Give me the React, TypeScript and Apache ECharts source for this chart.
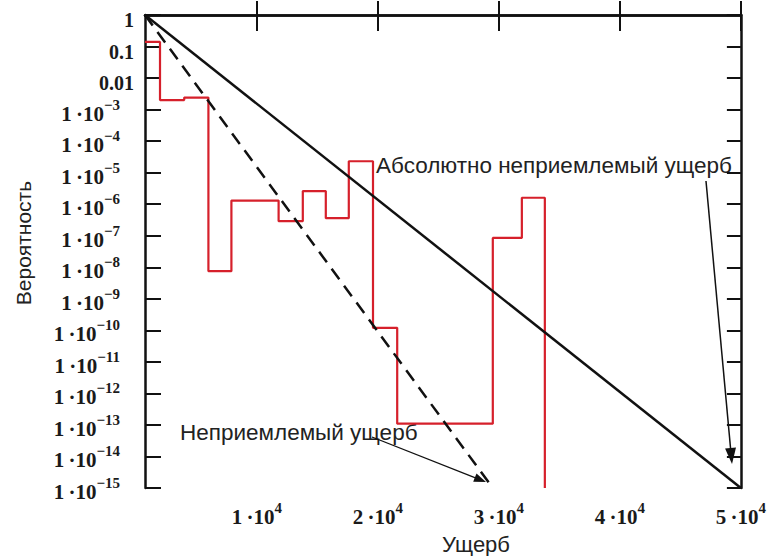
import React, { useEffect, useRef } from "react";
import * as echarts from "echarts";

// ---- data ----
const X_MIN = 760;
const X_MAX = 50000;
const xTickValues = [10000, 20000, 30000, 40000, 50000];

// red step curve: bin edges (damage) and probability in each bin
const stepEdges = [760, 2000, 4000, 6000, 7900, 11800, 13800, 15700, 17600, 19600, 21600, 29500, 31900, 33800];
const stepProb = [0.14, 2.0e-3, 2.4e-3, 7.5e-9, 1.3e-6, 2.9e-7, 2.6e-6, 3.6e-7, 2.3e-5, 1.2e-10, 1.1e-13, 8.5e-8, 1.6e-6];
const P_FLOOR = 1e-15;

// black limit lines
const absLimitX = [760, 50000];
const absLimitP = [1, 1e-15];
const limitX = [760, 29500];
const limitP = [1, 1e-15];

const SERIF = "'Liberation Serif', 'DejaVu Serif', serif";
const SANS = "'Liberation Sans', Arial, sans-serif";

function arrow(x1: number, y1: number, x2: number, y2: number, len: number, half: number, lw: number) {
  const dx = x2 - x1, dy = y2 - y1;
  const d = Math.sqrt(dx * dx + dy * dy);
  const ux = dx / d, uy = dy / d;
  const bx = x2 - ux * len, by = y2 - uy * len;
  return [
    { type: "line", shape: { x1, y1, x2: bx + ux * 2, y2: by + uy * 2 }, style: { stroke: "#111", lineWidth: lw } },
    {
      type: "polygon",
      shape: { points: [[x2, y2], [bx - uy * half, by + ux * half], [bx + uy * half, by - ux * half]] },
      style: { fill: "#111" },
    },
  ];
}

export default function App() {
  const ref = useRef<HTMLDivElement>(null);
  useEffect(() => {
    if (!ref.current) return;
    const chart = echarts.init(ref.current, null, { renderer: "svg" });
    const lg = (p: number) => Math.log10(p);

    const stepData: number[][] = stepProb.map((p, i) => [stepEdges[i], lg(p)]);
    stepData.push([stepEdges[stepEdges.length - 1], lg(stepProb[stepProb.length - 1])]);
    stepData.push([stepEdges[stepEdges.length - 1], lg(P_FLOOR)]);

    const absData = absLimitX.map((x, i) => [x, lg(absLimitP[i])]);
    const limData = limitX.map((x, i) => [x, lg(limitP[i])]);

    const base = { fontFamily: SERIF, fontWeight: "bold", color: "#1a1a1a" };
    const yRich = {
      p: { ...base, fontSize: 20, lineHeight: 20, padding: [10, 0, 0, 0] },
      b: { ...base, fontSize: 21, lineHeight: 20, padding: [8, 0, 0, 0] },
      s: { ...base, fontSize: 15, lineHeight: 20, padding: [0, 14, 10, 0] },
    };
    const xRich = {
      b: { ...base, fontSize: 21, lineHeight: 20, padding: [8, 0, 0, 0] },
      s: { ...base, fontSize: 15, lineHeight: 20, padding: [0, 0, 10, 0] },
    };

    const axisLine = { show: true, lineStyle: { color: "#111", width: 2.5 } };
    const tickStyle = { color: "#111", width: 2 };

    chart.setOption({
      animation: false,
      backgroundColor: "#fff",
      grid: { left: 145, top: 14, right: 23, bottom: 68 },
      xAxis: [
        {
          type: "value", min: X_MIN, max: X_MAX, position: "bottom",
          axisLine,
          splitLine: { show: false },
          axisTick: { show: true, inside: true, length: 14, lineStyle: tickStyle, customValues: xTickValues },
          axisLabel: {
            show: true, margin: 15, customValues: xTickValues, rich: xRich,
            fontFamily: SERIF, fontSize: 21, color: "#1a1a1a",
            formatter: (v: number) => `{b|${Math.round(v / 10000)}\u2009·10}{s|4}`,
          },
        },
        {
          type: "value", min: X_MIN, max: X_MAX, position: "top",
          axisLine,
          splitLine: { show: false },
          axisTick: { show: true, inside: true, length: 16, lineStyle: tickStyle, customValues: xTickValues },
          axisLabel: { show: false },
        },
      ],
      yAxis: [
        {
          type: "value", min: -15, max: 0, interval: 1, position: "left",
          axisLine,
          splitLine: { show: false },
          axisTick: { show: true, inside: true, length: 16, lineStyle: tickStyle },
          axisLabel: {
            show: true, margin: 11, rich: yRich,
            fontFamily: SERIF, fontSize: 21, color: "#1a1a1a",
            formatter: (v: number) => {
              if (v === 0) return "{p|1}";
              if (v === -1) return "{p|0.1}";
              if (v === -2) return "{p|0.01}";
              return `{b|1\u2009·10}{s|−${-v}}`;
            },
          },
        },
        {
          type: "value", min: -15, max: 0, interval: 1, position: "right",
          axisLine,
          splitLine: { show: false },
          axisTick: { show: true, inside: true, length: 14, lineStyle: tickStyle },
          axisLabel: { show: false },
        },
      ],
      series: [
        {
          type: "line", step: "end", data: stepData, showSymbol: false, silent: true,
          lineStyle: { color: "#d6202b", width: 2.2 }, z: 2,
        },
        {
          type: "line", data: limData, showSymbol: false, silent: true,
          lineStyle: { color: "#111", width: 2.5, type: [13, 8] }, z: 3,
        },
        {
          type: "line", data: absData, showSymbol: false, silent: true,
          lineStyle: { color: "#111", width: 2.5 }, z: 3,
        },
      ],
      graphic: [
        {
          type: "text", x: 23, y: 243, rotation: Math.PI / 2,
          style: { text: "Вероятность", font: `21px ${SANS}`, fill: "#222", align: "center", verticalAlign: "middle" },
        },
        {
          type: "text", x: 476, y: 544,
          style: { text: "Ущерб", font: `22px ${SANS}`, fill: "#222", align: "center", verticalAlign: "middle" },
        },
        {
          type: "text", x: 376, y: 165,
          style: { text: "Абсолютно неприемлемый ущерб", font: `22.5px ${SANS}`, fill: "#222", align: "left", verticalAlign: "middle" },
        },
        {
          type: "text", x: 180, y: 432,
          style: { text: "Неприемлемый ущерб", font: `22.5px ${SANS}`, fill: "#222", align: "left", verticalAlign: "middle" },
        },
        ...arrow(372, 437, 486, 482, 12, 4.5, 1.3),
        ...arrow(706, 181, 732, 464, 16, 5.5, 1.5),
      ],
    });
    return () => chart.dispose();
  }, []);
  return <div ref={ref} style={{ position: "fixed", left: 0, top: 0, width: 769, height: 556, background: "#fff" }} />;
}
